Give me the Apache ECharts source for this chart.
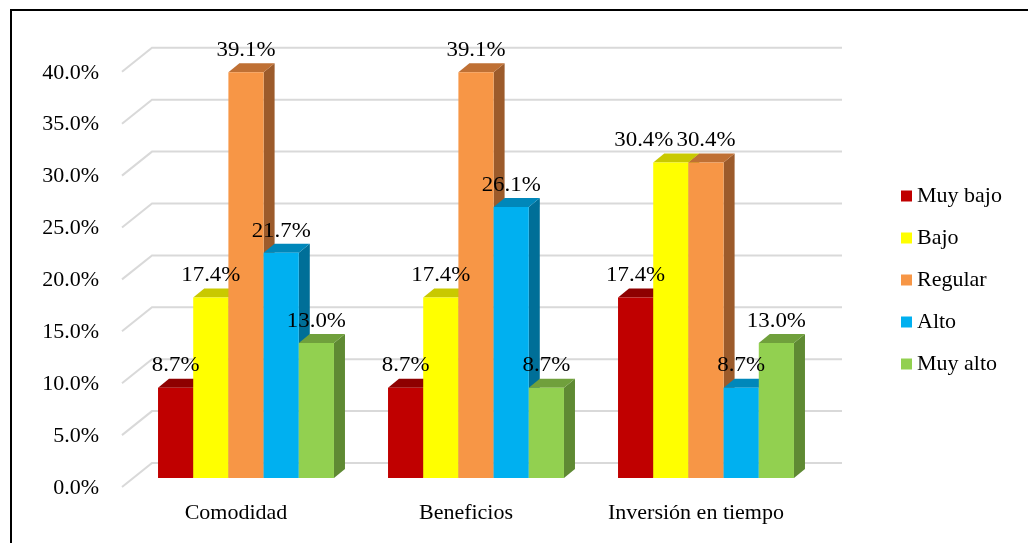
<!DOCTYPE html>
<html>
<head>
<meta charset="utf-8">
<script src="https://cdn.jsdelivr.net/npm/echarts@6/dist/echarts.min.js"></script>
<style>
  html, body { margin: 0; padding: 0; background: #fff; }
  #chart { width: 1028px; height: 543px; }
</style>
</head>
<body>
<div id="chart"></div>
<script>
// Categories and percentages per rating level
const categories = ['Comodidad', 'Beneficios', 'Inversión en tiempo'];
const seriesNames = ['Muy bajo', 'Bajo', 'Regular', 'Alto', 'Muy alto'];
const muyBajo = [8.7, 8.7, 17.4];
const bajo = [17.4, 17.4, 30.4];
const regular = [39.1, 39.1, 30.4];
const alto = [21.7, 26.1, 8.7];
const muyAlto = [13.0, 8.7, 13.0];
const yTicks = [0, 5, 10, 15, 20, 25, 30, 35, 40];

const seriesValues = [muyBajo, bajo, regular, alto, muyAlto];
// front / top / side shades for the pseudo-3D boxes
const palette = [
  { front: '#C00000', top: '#8E0000', side: '#780000' },
  { front: '#FFFF00', top: '#C9C900', side: '#ADAD00' },
  { front: '#F79646', top: '#BF7034', side: '#9C5B2B' },
  { front: '#00B0F0', top: '#0087BA', side: '#006F98' },
  { front: '#92D050', top: '#70A03C', side: '#5F8A33' }
];

const FONT = "'Liberation Serif', 'Times New Roman', serif";
const BAR_FILL = 0.765;     // share of a category taken by the group
const DEPTH_X = 11, DEPTH_Y = 9;   // box depth projection
const WALL_FRONT_DX = -9, WALL_FRONT_DY = 9;   // front edge of the floor
const WALL_BACK_DX = 21, WALL_BACK_DY = -15;   // back wall plane

function barGeom(api, seriesIdx, cat, val) {
  const base = api.coord([cat, 0]);
  const top = api.coord([cat, val]);
  const catW = api.size([1, 0])[0];
  const bw = catW * BAR_FILL / seriesNames.length;
  const xl = base[0] - bw * seriesNames.length / 2 + seriesIdx * bw;
  return { xl: xl, xr: xl + bw, yb: base[1], yt: top[1], bw: bw };
}

function boxRenderer(seriesIdx) {
  const c = palette[seriesIdx];
  return function (params, api) {
    const g = barGeom(api, seriesIdx, api.value(0), api.value(1));
    return {
      type: 'group',
      children: [
        {
          type: 'polygon',
          shape: { points: [[g.xr, g.yb], [g.xr + DEPTH_X, g.yb - DEPTH_Y], [g.xr + DEPTH_X, g.yt - DEPTH_Y], [g.xr, g.yt]] },
          style: { fill: c.side }
        },
        {
          type: 'polygon',
          shape: { points: [[g.xl, g.yt], [g.xr, g.yt], [g.xr + DEPTH_X, g.yt - DEPTH_Y], [g.xl + DEPTH_X, g.yt - DEPTH_Y]] },
          style: { fill: c.top }
        },
        {
          type: 'rect',
          shape: { x: g.xl, y: g.yt, width: g.bw, height: g.yb - g.yt },
          style: { fill: c.front }
        }
      ]
    };
  };
}

const boxSeries = seriesNames.map(function (name, i) {
  return {
    type: 'custom',
    name: name,
    z: 3,
    itemStyle: { color: palette[i].front },
    renderItem: boxRenderer(i),
    encode: { x: 0, y: 1 },
    data: seriesValues[i].map(function (v, k) { return [k, v]; })
  };
});

// back wall and floor-edge grid lines
const wallSeries = {
  type: 'custom',
  name: 'wall',
  z: 1,
  silent: true,
  renderItem: function (params, api) {
    const v = api.value(0);
    const y = api.coord([0, v])[1];
    const cs = params.coordSys;
    return {
      type: 'polyline',
      shape: {
        points: [
          [cs.x + WALL_FRONT_DX, y + WALL_FRONT_DY],
          [cs.x + WALL_BACK_DX, y + WALL_BACK_DY],
          [cs.x + cs.width + WALL_BACK_DX, y + WALL_BACK_DY]
        ]
      },
      style: { stroke: '#D9D9D9', lineWidth: 2, fill: null }
    };
  },
  encode: { y: 0 },
  data: yTicks.map(function (t) { return [t]; })
};

// value labels, kept above every box
const labelData = [];
seriesValues.forEach(function (vals, s) {
  vals.forEach(function (v, k) { labelData.push([k, v, s]); });
});
const labelSeries = {
  type: 'custom',
  name: 'labels',
  z: 10,
  silent: true,
  renderItem: function (params, api) {
    const s = api.value(2), k = api.value(0), v = api.value(1);
    const g = barGeom(api, s, k, v);
    // nudge a label left when the neighbouring label sits at the same height
    let shift = 0;
    const next = seriesValues[s + 1];
    if (next && Math.abs(next[k] - v) < 1.5) shift = -27;
    return {
      type: 'text',
      x: (g.xl + g.xr) / 2 + shift,
      y: g.yt - 22,
      scaleX: 1.04,
      style: {
        text: v.toFixed(1) + '%',
        x: 0,
        y: 0,
        textAlign: 'center',
        textVerticalAlign: 'middle',
        font: '22px ' + FONT,
        fill: '#000'
      }
    };
  },
  encode: { x: 0, y: 1 },
  data: labelData
};

const chart = echarts.init(document.getElementById('chart'), null, { renderer: 'canvas' });
chart.setOption({
  backgroundColor: '#fff',
  animation: false,
  textStyle: { fontFamily: FONT },
  graphic: [{
    type: 'rect',
    shape: { x: 11, y: 10, width: 1040, height: 560 },
    style: { fill: null, stroke: '#000', lineWidth: 2 },
    z: 100
  }],
  legend: {
    data: seriesNames,
    orient: 'vertical',
    left: 896,
    top: 180,
    icon: 'rect',
    itemWidth: 11,
    itemHeight: 11,
    itemGap: 20,
    textStyle: { fontFamily: FONT, fontSize: 22, lineHeight: 22, color: '#000' }
  },
  grid: { left: 131, width: 690, top: 62.8, bottom: 65 },
  xAxis: {
    type: 'category',
    data: categories,
    axisLine: { show: false },
    axisTick: { show: false },
    axisLabel: { fontFamily: FONT, fontSize: 22, color: '#000', margin: 24, padding: [0, 20, 0, 0] },
    splitLine: { show: false }
  },
  yAxis: {
    type: 'value',
    min: 0,
    max: 40,
    interval: 5,
    axisLine: { show: false },
    axisTick: { show: false },
    splitLine: { show: false },
    axisLabel: {
      fontFamily: FONT, fontSize: 22, color: '#000', margin: 32,
      verticalAlign: 'top', lineHeight: 20,
      formatter: function (v) { return v.toFixed(1) + '%'; }
    }
  },
  series: [wallSeries].concat(boxSeries, [labelSeries])
});
</script>
</body>
</html>
